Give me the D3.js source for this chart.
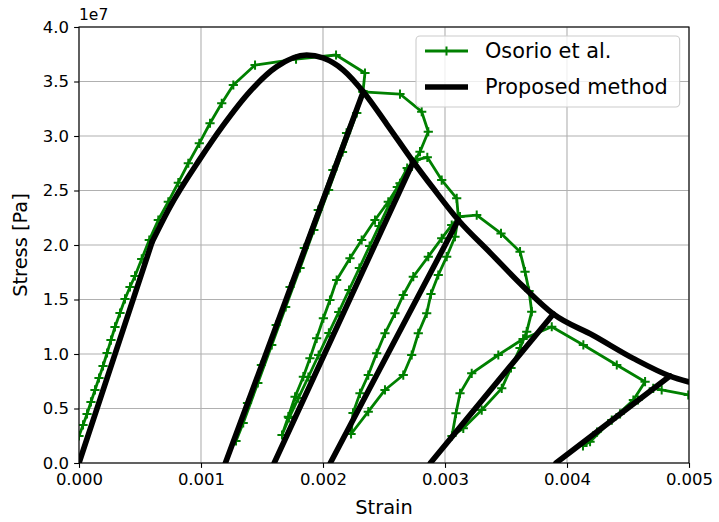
<!DOCTYPE html>
<html>
<head>
<meta charset="utf-8">
<script src="https://d3js.org/d3.v7.min.js"></script>
<style>
  html, body { margin: 0; padding: 0; background: #fff; }
  svg { display: block; font-family: "DejaVu Sans", sans-serif; }
</style>
</head>
<body>
<svg id="chart" width="719" height="522"></svg>
<script>
// Stress values are in units of 1e7 Pa (matching the axis offset label)

// Osorio et al. experimental curve (cyclic loading), in plotting order
const osorioStrain = [
  0.000000, 0.000033, 0.000066, 0.000098, 0.000131, 0.000164, 0.000197, 0.000230,
  0.000262, 0.000295, 0.000336, 0.000377, 0.000418, 0.000459, 0.000514, 0.000576,
  0.000650, 0.000732, 0.000814, 0.000896, 0.000986, 0.001074, 0.001170, 0.001265,
  0.001443, 0.001779, 0.002107, 0.002344, 0.002328,
  // unload 1
  0.002277, 0.002160, 0.002046, 0.001925, 0.001812, 0.001694, 0.001580, 0.001466,
  0.001346, 0.001287,
  // reload 1
  0.001381, 0.001495, 0.001616, 0.001730, 0.001847, 0.001961, 0.002081, 0.002193,
  0.002328,
  // envelope
  0.002631, 0.002809, 0.002863, 0.002795, 0.002746,
  // unload 2
  0.002690, 0.002609, 0.002536, 0.002459, 0.002382, 0.002298, 0.002213, 0.002129,
  0.002048, 0.001964, 0.001880, 0.001798, 0.001722, 0.001664,
  // reload 2
  0.001716, 0.001771, 0.001839, 0.001893, 0.001948, 0.002003, 0.002057, 0.002112,
  0.002221, 0.002317, 0.002426, 0.002535, 0.002631, 0.002699, 0.002762,
  // envelope
  0.002855, 0.002973, 0.003096, 0.003109,
  // unload 3
  0.003082, 0.003014, 0.002945, 0.002885, 0.002850, 0.002781, 0.002727, 0.002658,
  0.002508, 0.002371, 0.002230,
  // reload 3
  0.002246, 0.002303, 0.002371, 0.002440, 0.002508, 0.002590, 0.002658, 0.002740,
  0.002863, 0.002973, 0.003055, 0.003123,
  // envelope
  0.003260, 0.003459, 0.003615, 0.003656, 0.003689, 0.003711, 0.003670,
  // unload 4
  0.003615, 0.003541, 0.003465, 0.003301, 0.003150, 0.003057,
  // reload 4
  0.003090, 0.003123, 0.003219, 0.003437, 0.003640, 0.003875,
  // envelope
  0.004134, 0.004408, 0.004640,
  // unload 5
  0.004544, 0.004367, 0.004189, 0.004131,
  // reload 5
  0.004246, 0.004435, 0.004582, 0.004707, 0.004776, 0.004994, 0.005172
];
const osorioStress = [
  0.248, 0.349, 0.450, 0.560, 0.670, 0.780, 0.890, 1.009,
  1.128, 1.248, 1.376, 1.505, 1.615, 1.716, 1.872, 2.046,
  2.229, 2.397, 2.572, 2.750, 2.933, 3.117, 3.300, 3.468,
  3.651, 3.706, 3.743, 3.578, 3.413,
  3.211, 2.853, 2.505, 2.138, 1.789, 1.431, 1.083, 0.734,
  0.367, 0.202,
  0.550, 0.899, 1.266, 1.615, 1.972, 2.321, 2.688, 3.028,
  3.404,
  3.385, 3.223, 3.039, 2.856, 2.761,
  2.706, 2.532, 2.358, 2.174, 1.991, 1.789, 1.587, 1.385,
  1.193, 0.991, 0.789, 0.596, 0.413, 0.257,
  0.425, 0.608, 0.792, 0.961, 1.144, 1.328, 1.495, 1.679,
  1.878, 2.046, 2.229, 2.397, 2.566, 2.688, 2.780,
  2.804, 2.596, 2.428, 2.260,
  2.076, 1.893, 1.725, 1.550, 1.373, 1.190, 0.991, 0.807,
  0.670, 0.471, 0.266,
  0.459, 0.639, 0.807, 1.006, 1.190, 1.373, 1.541, 1.709,
  1.893, 2.061, 2.183, 2.260,
  2.275, 2.106, 1.939, 1.755, 1.578, 1.388, 1.205,
  1.055, 0.872, 0.685, 0.486, 0.318, 0.248,
  0.456, 0.639, 0.823, 0.991, 1.138, 1.250,
  1.083, 0.899, 0.746,
  0.578, 0.394, 0.196, 0.156,
  0.284, 0.450, 0.578, 0.685, 0.670, 0.624, 0.587
];

// Proposed method: linear elastic part then softening envelope
const modelStrain = [
  0.0, 0.0006, 0.000746, 0.000992, 0.001183, 0.001402, 0.001621, 0.001866,
  0.002, 0.002166, 0.00233, 0.002522, 0.00274, 0.002904, 0.003109, 0.003369,
  0.003642, 0.003888, 0.004216, 0.004543, 0.004844, 0.005
];
const modelStress = [
  0.0, 2.03, 2.35, 2.79, 3.10, 3.41, 3.636, 3.743,
  3.716, 3.605, 3.406, 3.11, 2.764, 2.52, 2.229, 1.93,
  1.618, 1.367, 1.17, 0.96, 0.798, 0.743
];

// Proposed method unloading branches: from envelope point down to residual strain
const unloadTopStrain = [0.00233, 0.00274, 0.003109, 0.003888, 0.004844];
const unloadTopStress = [3.406, 2.764, 2.229, 1.367, 0.798];
const residualStrain = [0.0012, 0.0016, 0.00206, 0.00288, 0.00391];

const xTicks = [0, 0.001, 0.002, 0.003, 0.004, 0.005];
const yTicks = [0, 0.5, 1.0, 1.5, 2.0, 2.5, 3.0, 3.5, 4.0];

const seriesNames = ["Osorio et al.", "Proposed method"];

// Setup
const width = 719, height = 522;
const margin = { top: 27, right: 30, bottom: 59, left: 79 };
const svg = d3.select("#chart");

const x = d3.scaleLinear().domain([0, 0.005]).range([margin.left, width - margin.right]);
const y = d3.scaleLinear().domain([0, 4]).range([height - margin.bottom, margin.top]);

const tickFont = 16.5;
const labelFont = 19.4;
const legendFont = 20.8;

svg.append("defs")
  .append("clipPath")
  .attr("id", "plot-clip")
  .append("rect")
  .attr("x", x(0))
  .attr("y", y(4))
  .attr("width", x(0.005) - x(0))
  .attr("height", y(0) - y(4));

// Grid
const grid = svg.append("g").attr("class", "grid");
grid.selectAll(".gx")
  .data(xTicks)
  .enter()
  .append("line")
  .attr("x1", (d) => x(d))
  .attr("x2", (d) => x(d))
  .attr("y1", y(0))
  .attr("y2", y(4))
  .attr("stroke", "#b0b0b0")
  .attr("stroke-width", 1.1);
grid.selectAll(".gy")
  .data(yTicks)
  .enter()
  .append("line")
  .attr("x1", x(0))
  .attr("x2", x(0.005))
  .attr("y1", (d) => y(d))
  .attr("y2", (d) => y(d))
  .attr("stroke", "#b0b0b0")
  .attr("stroke-width", 1.1);

const plot = svg.append("g").attr("clip-path", "url(#plot-clip)");

// Osorio et al. curve
const osorioPts = osorioStrain.map((s, i) => [s, osorioStress[i]]);
const line = d3.line()
  .x((d) => x(d[0]))
  .y((d) => y(d[1]));

plot.append("path")
  .datum(osorioPts)
  .attr("d", line)
  .attr("fill", "none")
  .attr("stroke", "green")
  .attr("stroke-width", 2.8)
  .attr("stroke-linejoin", "round");

const plusPath = "M-4.6,0H4.6M0,-4.6V4.6";
plot.append("g")
  .selectAll("path")
  .data(osorioPts)
  .enter()
  .append("path")
  .attr("transform", (d) => `translate(${x(d[0])},${y(d[1])})`)
  .attr("d", plusPath)
  .attr("stroke", "green")
  .attr("stroke-width", 2);

// Proposed method
const modelPts = modelStrain.map((s, i) => [s, modelStress[i]]);
plot.append("path")
  .datum(modelPts.slice(0, 2))
  .attr("d", line)
  .attr("fill", "none")
  .attr("stroke", "black")
  .attr("stroke-width", 5.6)
  .attr("stroke-linecap", "round");

plot.append("path")
  .datum(modelPts.slice(1))
  .attr("d", d3.line().curve(d3.curveMonotoneX).x((d) => x(d[0])).y((d) => y(d[1])))
  .attr("fill", "none")
  .attr("stroke", "black")
  .attr("stroke-width", 5.6)
  .attr("stroke-linecap", "round");

const unloads = residualStrain.map((r, i) => [[unloadTopStrain[i], unloadTopStress[i]], [r, 0]]);
plot.selectAll(".unload")
  .data(unloads)
  .enter()
  .append("path")
  .attr("class", "unload")
  .attr("d", line)
  .attr("fill", "none")
  .attr("stroke", "black")
  .attr("stroke-width", 5.6)
  .attr("stroke-linecap", "round");

// Axes
const xAxis = svg.append("g")
  .attr("transform", `translate(0,${y(0)})`)
  .call(d3.axisBottom(x).tickValues(xTicks).tickFormat(d3.format(".3f")).tickSizeInner(4.9).tickSizeOuter(0).tickPadding(5.5));
const yAxis = svg.append("g")
  .attr("transform", `translate(${x(0)},0)`)
  .call(d3.axisLeft(y).tickValues(yTicks).tickFormat(d3.format(".1f")).tickSizeInner(4.9).tickSizeOuter(0).tickPadding(5));

[xAxis, yAxis].forEach((ax) => {
  ax.select(".domain").remove();
  ax.selectAll(".tick line").attr("stroke", "black").attr("stroke-width", 1.1);
  ax.selectAll(".tick text")
    .attr("fill", "black")
    .style("font-size", tickFont + "px")
    .style("font-family", "DejaVu Sans");
});

// Frame (spines)
svg.append("rect")
  .attr("x", x(0))
  .attr("y", y(4))
  .attr("width", x(0.005) - x(0))
  .attr("height", y(0) - y(4))
  .attr("fill", "none")
  .attr("stroke", "black")
  .attr("stroke-width", 1.1);

// Offset text
svg.append("text")
  .attr("x", x(0))
  .attr("y", y(4) - 7)
  .style("font-size", "15.5px")
  .text("1e7");

// Axis labels
svg.append("text")
  .attr("x", (x(0) + x(0.005)) / 2)
  .attr("y", 514)
  .attr("text-anchor", "middle")
  .style("font-size", labelFont + "px")
  .text("Strain");

svg.append("text")
  .attr("transform", `translate(27,${(y(0) + y(4)) / 2}) rotate(-90)`)
  .attr("text-anchor", "middle")
  .style("font-size", labelFont + "px")
  .text("Stress [Pa]");

// Legend
const legend = svg.append("g");
const legendBox = legend.append("rect")
  .attr("rx", 4)
  .attr("ry", 4)
  .attr("fill", "white")
  .attr("fill-opacity", 0.8)
  .attr("stroke", "#cccccc")
  .attr("stroke-width", 1.1);

const rowY = [51, 87];
const handleX0 = 425, handleX1 = 468, textX = 485;

legend.append("line")
  .attr("x1", handleX0).attr("x2", handleX1)
  .attr("y1", rowY[0]).attr("y2", rowY[0])
  .attr("stroke", "green").attr("stroke-width", 2.8);
legend.append("path")
  .attr("transform", `translate(${(handleX0 + handleX1) / 2},${rowY[0]})`)
  .attr("d", plusPath)
  .attr("stroke", "green").attr("stroke-width", 2);
legend.append("line")
  .attr("x1", handleX0).attr("x2", handleX1)
  .attr("y1", rowY[1]).attr("y2", rowY[1])
  .attr("stroke", "black").attr("stroke-width", 5.6);

const legendTexts = legend.selectAll(".ltext")
  .data(seriesNames)
  .enter()
  .append("text")
  .attr("class", "ltext")
  .attr("x", textX)
  .attr("y", (d, i) => rowY[i])
  .attr("dy", "0.36em")
  .style("font-size", legendFont + "px")
  .text((d) => d);

let maxW = 0;
legendTexts.each(function () { maxW = Math.max(maxW, this.getComputedTextLength()); });
const boxRight = textX + maxW + 12;
legendBox
  .attr("x", 416)
  .attr("y", 36)
  .attr("width", boxRight - 416)
  .attr("height", 71);
</script>
</body>
</html>
